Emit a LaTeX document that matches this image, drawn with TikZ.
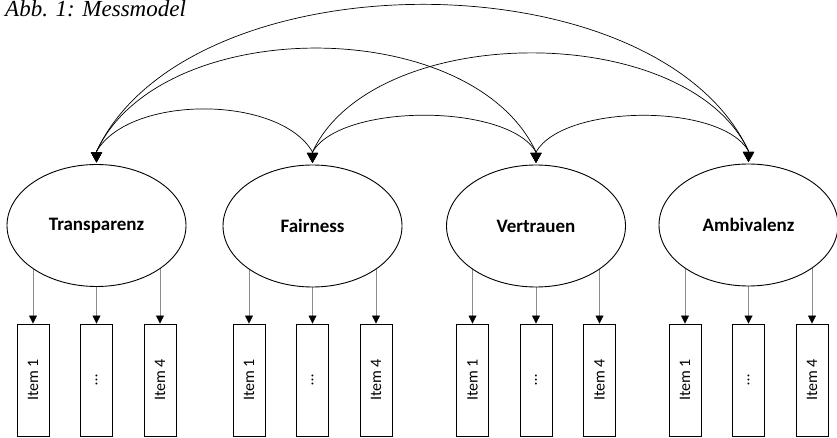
\documentclass[tikz,border=0pt]{standalone}
\usepackage{fontspec}
\setmainfont{Liberation Serif}
\newfontfamily\calibri{Carlito}
\usepackage{tikz}
\usetikzlibrary{arrows.meta,shapes.geometric,backgrounds}
\definecolor{loadgray}{HTML}{8C8C8C}
\newcommand{\itm}[1]{\rotatebox{90}{#1}}
\tikzset{
  lat/.style={ellipse,draw=black,line width=0.9pt,fill=white,minimum width=179pt,minimum height=122pt,inner sep=0pt,outer sep=2pt,font=\calibri\bfseries\fontsize{19}{22}\selectfont},
  ind/.style={draw=black,line width=0.9pt,fill=white,minimum width=32pt,minimum height=112pt,inner sep=0pt,font=\calibri\fontsize{16}{18}\selectfont},
  cov/.style={{Triangle[length=10pt,width=11pt]}-{Triangle[length=10pt,width=11pt]},line width=0.7pt},
  load/.style={-{Triangle[length=8pt,width=8pt,color=black]},line width=0.8pt,loadgray}
}
\begin{document}
\begin{tikzpicture}[x=1pt,y=-1pt]
\useasboundingbox (0,0) rectangle (837,438);
\node[anchor=base west,inner sep=0pt,font=\itshape\fontsize{23}{26}\selectfont] (cap) at (5,16.5) {Abb. 1: Messmodel};
% latente Konstrukte
\node[lat] (T) at (96.5,225.5) {Transparenz};
\node[lat] (F) at (312.5,226) {Fairness};
\node[lat] (V) at (536,226) {Vertrauen};
\node[lat] (A) at (748.5,225) {Ambivalenz};
% Items
\node[ind] (t1) at (33,380) {\itm{Item 1}}; \node[ind] (t2) at (96.5,380) {\itm{\dots}}; \node[ind] (t4) at (160,380) {\itm{Item 4}};
\node[ind] (f1) at (249,380) {\itm{Item 1}}; \node[ind] (f2) at (312.5,380) {\itm{\dots}}; \node[ind] (f4) at (376,380) {\itm{Item 4}};
\node[ind] (v1) at (472.5,380) {\itm{Item 1}}; \node[ind] (v2) at (536,380) {\itm{\dots}}; \node[ind] (v4) at (599.5,380) {\itm{Item 4}};
\node[ind] (a1) at (685,380) {\itm{Item 1}}; \node[ind] (a2) at (748.5,380) {\itm{\dots}}; \node[ind] (a4) at (812,380) {\itm{Item 4}};
\begin{scope}[on background layer]
\draw[load] (t1 |- T) -- (t1); \draw[load] (t2 |- T) -- (t2); \draw[load] (t4 |- T) -- (t4);
\draw[load] (f1 |- F) -- (f1); \draw[load] (f2 |- F) -- (f2); \draw[load] (f4 |- F) -- (f4);
\draw[load] (v1 |- V) -- (v1); \draw[load] (v2 |- V) -- (v2); \draw[load] (v4 |- V) -- (v4);
\draw[load] (a1 |- A) -- (a1); \draw[load] (a2 |- A) -- (a2); \draw[load] (a4 |- A) -- (a4);
\end{scope}
% Kovarianzen (kurzes senkrechtes Stueck unter der Spitze)
\draw[cov] (T.north) -- ++(0,-11) to[out=60,in=120,looseness=0.78] ([yshift=11pt]F.north) -- (F.north);
\draw[cov] (F.north) -- ++(0,-11) to[out=60,in=120,looseness=0.65] ([yshift=11pt]V.north) -- (V.north);
\draw[cov] (V.north) -- ++(0,-11) to[out=60,in=120,looseness=0.67] ([yshift=11pt]A.north) -- (A.north);
\draw[cov] (T.north) -- ++(0,-11) to[out=65,in=115,looseness=0.89] ([yshift=11pt]V.north) -- (V.north);
\draw[cov] (F.north) -- ++(0,-11) to[out=65,in=115,looseness=0.85] ([yshift=11pt]A.north) -- (A.north);
\draw[cov] (T.north) -- ++(0,-11) to[out=65,in=115,looseness=0.85] ([yshift=11pt]A.north) -- (A.north);
\end{tikzpicture}
\end{document}
